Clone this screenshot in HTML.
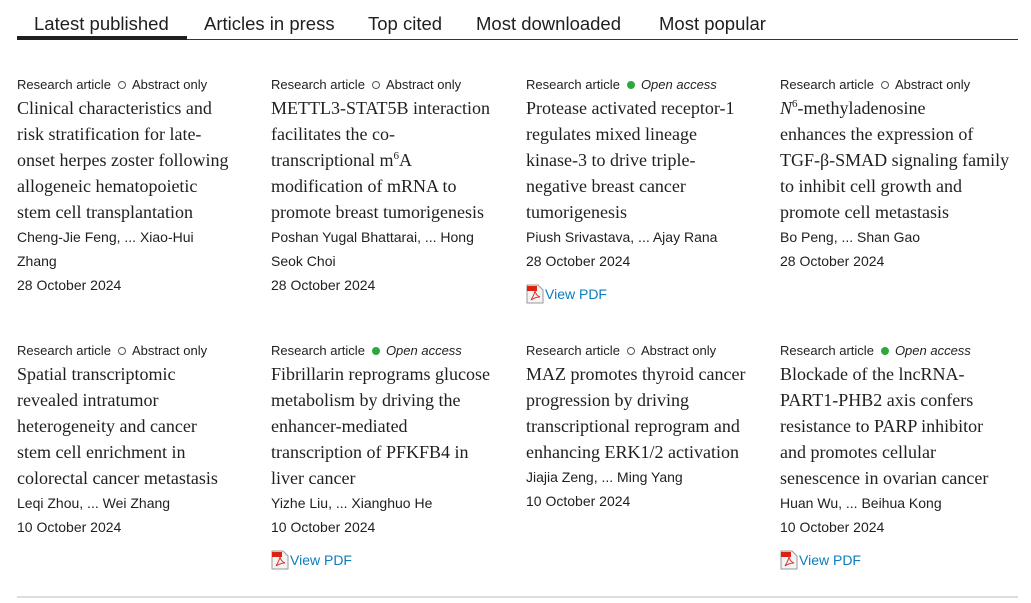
<!DOCTYPE html>
<html><head><meta charset="utf-8">
<style>
*{margin:0;padding:0;box-sizing:border-box}
body{width:1031px;height:603px;background:#fff;position:relative;overflow:hidden;font-family:"Liberation Sans",sans-serif;color:#1f1f1f}
.tabs{position:absolute;left:17px;top:0;width:1001px;height:40px;border-bottom:1px solid #333}
.tab{position:absolute;top:12px;font-size:18.5px;line-height:24px;color:#1f1f1f;white-space:nowrap}
.active-bar{position:absolute;left:0;top:36px;width:170px;height:4px;background:#1f1f1f}
.card{position:absolute;width:240px}
.meta{font-size:13px;line-height:20px;height:20px;white-space:nowrap;color:#1f1f1f}
.dot{display:inline-block;width:8px;height:8px;border-radius:50%;border:1.5px solid #555;margin:0 6px 0 7px;vertical-align:0px}
.dot.g{background:#2da83a;border-color:#2da83a}
.oa{font-style:italic}
.title{font-family:"Liberation Serif",serif;font-size:18px;line-height:26px;color:#1f1f1f;white-space:nowrap}
.auth{font-size:14px;line-height:24px;white-space:nowrap}
.pdf{margin-top:9px;font-size:14px;line-height:24px;color:#0c7dbb;white-space:nowrap;display:flex;align-items:center}
.pdf svg{margin-right:1px}
.bottom{position:absolute;left:17px;top:596px;width:1001px;height:2px;background:#ddd}
</style></head><body>
<div class="tabs">
<span class="tab" style="left:17px">Latest published</span>
<span class="tab" style="left:187px">Articles in press</span>
<span class="tab" style="left:351px">Top cited</span>
<span class="tab" style="left:459px">Most downloaded</span>
<span class="tab" style="left:642px">Most popular</span>
<div class="active-bar"></div>
</div>

<div class="card" style="left:17px;top:75px">
<div class="meta">Research article<span class="dot"></span>Abstract only</div>
<div class="title">Clinical characteristics and<br>risk stratification for late-<br>onset herpes zoster following<br>allogeneic hematopoietic<br>stem cell transplantation</div>
<div class="auth">Cheng-Jie Feng, ... Xiao-Hui<br>Zhang</div>
<div class="auth">28 October 2024</div>
</div>

<div class="card" style="left:271px;top:75px">
<div class="meta">Research article<span class="dot"></span>Abstract only</div>
<div class="title">METTL3-STAT5B interaction<br>facilitates the co-<br>transcriptional m<sup style="font-size:11px;line-height:0">6</sup>A<br>modification of mRNA to<br>promote breast tumorigenesis</div>
<div class="auth">Poshan Yugal Bhattarai, ... Hong<br>Seok Choi</div>
<div class="auth">28 October 2024</div>
</div>

<div class="card" style="left:526px;top:75px">
<div class="meta">Research article<span class="dot g"></span><span class="oa">Open access</span></div>
<div class="title">Protease activated receptor-1<br>regulates mixed lineage<br>kinase-3 to drive triple-<br>negative breast cancer<br>tumorigenesis</div>
<div class="auth">Piush Srivastava, ... Ajay Rana</div>
<div class="auth">28 October 2024</div>
<div class="pdf"><svg width="18" height="20" viewBox="0 0 18 20"><path d="M1 1h11l5 5v13H1z" fill="#f4f4f4" stroke="#999"/><rect x="1" y="2" width="10" height="5" fill="#d21"/><path d="M5 16c3-5 4-8 4-10 0 3 2 6 5 7-3 0-6 1-9 3z" fill="none" stroke="#d33" stroke-width="1"/></svg>View PDF</div>
</div>

<div class="card" style="left:780px;top:75px">
<div class="meta">Research article<span class="dot"></span>Abstract only</div>
<div class="title"><i>N</i><sup style="font-size:11px;line-height:0">6</sup>-methyladenosine<br>enhances the expression of<br>TGF-β-SMAD signaling family<br>to inhibit cell growth and<br>promote cell metastasis</div>
<div class="auth">Bo Peng, ... Shan Gao</div>
<div class="auth">28 October 2024</div>
</div>

<div class="card" style="left:17px;top:341px">
<div class="meta">Research article<span class="dot"></span>Abstract only</div>
<div class="title">Spatial transcriptomic<br>revealed intratumor<br>heterogeneity and cancer<br>stem cell enrichment in<br>colorectal cancer metastasis</div>
<div class="auth">Leqi Zhou, ... Wei Zhang</div>
<div class="auth">10 October 2024</div>
</div>

<div class="card" style="left:271px;top:341px">
<div class="meta">Research article<span class="dot g"></span><span class="oa">Open access</span></div>
<div class="title">Fibrillarin reprograms glucose<br>metabolism by driving the<br>enhancer-mediated<br>transcription of PFKFB4 in<br>liver cancer</div>
<div class="auth">Yizhe Liu, ... Xianghuo He</div>
<div class="auth">10 October 2024</div>
<div class="pdf"><svg width="18" height="20" viewBox="0 0 18 20"><path d="M1 1h11l5 5v13H1z" fill="#f4f4f4" stroke="#999"/><rect x="1" y="2" width="10" height="5" fill="#d21"/><path d="M5 16c3-5 4-8 4-10 0 3 2 6 5 7-3 0-6 1-9 3z" fill="none" stroke="#d33" stroke-width="1"/></svg>View PDF</div>
</div>

<div class="card" style="left:526px;top:341px">
<div class="meta">Research article<span class="dot"></span>Abstract only</div>
<div class="title">MAZ promotes thyroid cancer<br>progression by driving<br>transcriptional reprogram and<br>enhancing ERK1/2 activation</div>
<div class="auth">Jiajia Zeng, ... Ming Yang</div>
<div class="auth">10 October 2024</div>
</div>

<div class="card" style="left:780px;top:341px">
<div class="meta">Research article<span class="dot g"></span><span class="oa">Open access</span></div>
<div class="title">Blockade of the lncRNA-<br>PART1-PHB2 axis confers<br>resistance to PARP inhibitor<br>and promotes cellular<br>senescence in ovarian cancer</div>
<div class="auth">Huan Wu, ... Beihua Kong</div>
<div class="auth">10 October 2024</div>
<div class="pdf"><svg width="18" height="20" viewBox="0 0 18 20"><path d="M1 1h11l5 5v13H1z" fill="#f4f4f4" stroke="#999"/><rect x="1" y="2" width="10" height="5" fill="#d21"/><path d="M5 16c3-5 4-8 4-10 0 3 2 6 5 7-3 0-6 1-9 3z" fill="none" stroke="#d33" stroke-width="1"/></svg>View PDF</div>
</div>

<div class="bottom"></div>
</body></html>
